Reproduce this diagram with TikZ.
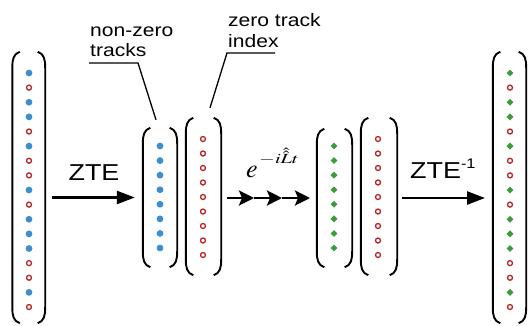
\documentclass[tikz,border=0pt]{standalone}
\usepackage{mathptmx}
\usepackage{fontspec}
\setmainfont[FakeStretch=1.17]{Liberation Sans}
\usetikzlibrary{arrows.meta,shapes.geometric}
\definecolor{dotblue}{HTML}{3D8ED0}
\definecolor{dotred}{HTML}{B52525}
\definecolor{dotgreen}{HTML}{3C9B3C}

% a pair of round brackets around a (blank) vector node
\newcommand\parpair[1]{%
  \draw[brk] ([xshift=7.5pt]#1.north west)
    .. controls ([xshift=1pt,yshift=-2pt]#1.north west) and ([yshift=-8pt]#1.north west) .. ([yshift=-16pt]#1.north west)
    -- ([yshift=16pt]#1.south west)
    .. controls ([yshift=8pt]#1.south west) and ([xshift=1pt,yshift=2pt]#1.south west) .. ([xshift=7.5pt]#1.south west);
  \draw[brk] ([xshift=-7.5pt]#1.north east)
    .. controls ([xshift=-1pt,yshift=-2pt]#1.north east) and ([yshift=-8pt]#1.north east) .. ([yshift=-16pt]#1.north east)
    -- ([yshift=16pt]#1.south east)
    .. controls ([yshift=8pt]#1.south east) and ([xshift=-1pt,yshift=2pt]#1.south east) .. ([xshift=-7.5pt]#1.south east);
}

\begin{document}
\begin{tikzpicture}[x=1pt,y=-1pt,
  vec/.style={draw=none,inner sep=0pt,minimum width=#1},
  brk/.style={line width=1.9pt,black},
  bdot/.style={circle,fill=dotblue,inner sep=0pt,minimum size=6.8pt},
  rdot/.style={circle,draw=dotred,line width=1.3pt,inner sep=0pt,minimum size=5pt},
  gdot/.style={diamond,fill=dotgreen,inner sep=0pt,minimum size=7pt},
  bigarr/.style={line width=2.5pt,-{Triangle[length=18pt,width=13pt]}},
  smallarr/.style={line width=2.8pt,-{Stealth[length=15pt,width=15pt,inset=3pt]}},
  lead/.style={line width=1.3pt},
  lbl/.style={inner sep=0pt,anchor=base west,font=\fontsize{18}{18}\selectfont},
  big/.style={inner sep=0pt,anchor=base,font=\fontsize{23}{23}\selectfont}]
\useasboundingbox (0,0) rectangle (528,325);

% vectors
\node[vec=32.5pt,minimum height=271pt] (vL)  at (28.75,187.5) {};
\node[vec=34pt,minimum height=139pt]   (vB)  at (160,197.5) {};
\node[vec=35pt,minimum height=157pt]   (vR1) at (203.5,196.5) {};
\node[vec=35pt,minimum height=138pt]   (vG)  at (334.5,198) {};
\node[vec=36pt,minimum height=157pt]   (vR2) at (379,196.5) {};
\node[vec=33pt,minimum height=271pt]   (vRt) at (509.5,187.5) {};
\foreach \v in {vL,vB,vR1,vG,vR2,vRt} {\parpair{\v}}

% full-length track vectors: 1 = non-zero, 0 = zero
\foreach \f [count=\k from 0] in {1,0,1,1,0,1,0,0,1,0,1,1,1,0,0,1,0} {
  \pgfmathsetmacro\yy{73+14.625*\k}
  \ifnum\f=1
    \node[bdot] (L\k) at (29,\yy) {};
    \node[gdot] (R\k) at (510,\yy) {};
  \else
    \node[rdot] (L\k) at (29,\yy) {};
    \node[rdot] (R\k) at (510,\yy) {};
  \fi
}
% compressed vectors
\foreach \k in {0,...,7} {
  \pgfmathsetmacro\yy{146+14.57*\k}
  \node[bdot] (B\k) at (160,\yy) {};
  \node[gdot] (G\k) at (334,\yy) {};
}
\foreach \k in {0,...,8} {
  \pgfmathsetmacro\yy{139+14.5*\k}
  \node[rdot] (Z\k) at (203,\yy) {};
  \node[rdot] (Y\k) at (378,\yy) {};
}

% ZTE
\node[big] (zte) at (94,180) {ZTE};
\draw[bigarr] ([xshift=7pt]vL.east |- vB.west) -- ([xshift=-8pt]vB.west);

% time evolution
\node[inner sep=0pt,anchor=base west] (expo) at (246,177)
  {\fontsize{26}{26}\selectfont$e$\hspace{1.5pt}\raisebox{14pt}{\scalebox{1.45}[1]{\fontsize{14}{14}\selectfont$-i\hat{\hat{L}}t$}}};
\coordinate (s0) at (227,198);
\coordinate (s1) at (254,198);
\coordinate (s2) at (282,198);
\coordinate (s3) at (310,198);
\draw[smallarr] (s0) -- (s1);
\draw[smallarr] (s1) -- (s2);
\draw[smallarr] (s2) -- (s3);

% inverse ZTE
\node[big,anchor=base west] (ztei) at (410,178) {ZTE\raisebox{10pt}{\fontsize{14}{14}\selectfont -1}};
\coordinate (i0) at (402,198);
\coordinate (i1) at (485,198);
\draw[bigarr] (i0) -- (i1);

% labels with leaders
\node[lbl] (nz1) at (90,36) {non-zero};
\node[lbl] (nz2) at (90,56) {tracks};
\draw[lead] ([xshift=-1pt,yshift=-7pt]nz2.base west) -- ++(49,0) -- ([xshift=-4pt,yshift=8pt]vB.north);
\node[lbl] (zt1) at (228,26) {zero track};
\node[lbl] (zt2) at (228,47) {index};
\draw[lead] ([xshift=47pt,yshift=-6pt]zt2.base west) -- ([xshift=-1pt,yshift=-6pt]zt2.base west) -- ([xshift=6.5pt,yshift=10pt]vR1.north);
\end{tikzpicture}
\end{document}
